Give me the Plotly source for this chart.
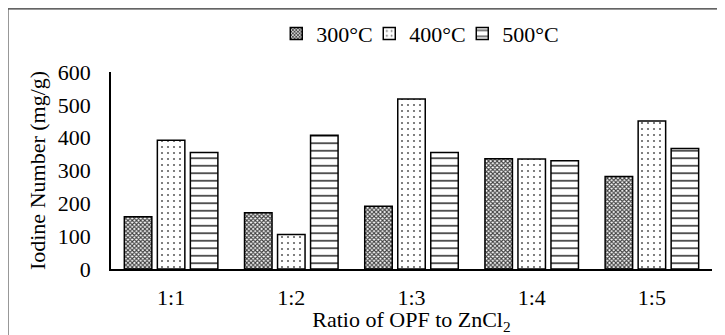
import plotly.graph_objects as go

categories = ["1:1", "1:2", "1:3", "1:4", "1:5"]
series_names = ["300°C", "400°C", "500°C"]
values_300 = [159, 171, 191, 336, 282]
values_400 = [392, 105, 518, 335, 451]
values_500 = [355, 407, 355, 330, 367]
y_ticks = [0, 100, 200, 300, 400, 500, 600]

FONT = "Liberation Serif, Times New Roman, serif"
FS = 22

patterns = [
    dict(shape="x", size=3, solidity=0.6, fgcolor="#404040", bgcolor="white", fillmode="replace"),
    dict(shape=".", size=6, solidity=0.1, fgcolor="#606060", bgcolor="white", fillmode="replace"),
    dict(shape="-", size=7.5, solidity=0.25, fgcolor="#505050", bgcolor="white", fillmode="replace"),
]

fig = go.Figure()
for name, vals, pat in zip(series_names, [values_300, values_400, values_500], patterns):
    fig.add_trace(go.Bar(
        x=categories, y=vals, name=name,
        marker=dict(color="white", pattern=pat, line=dict(color="black", width=1.5)),
    ))
# invisible spacer legend entry so the last legend label is not clipped
fig.add_trace(go.Scatter(x=[None], y=[None], mode="markers", name=" ",
                         marker=dict(color="rgba(0,0,0,0)", size=1,
                                     line=dict(width=0, color="rgba(0,0,0,0)")),
                         hoverinfo="skip"))

fig.update_layout(
    width=717, height=327,
    margin=dict(l=103, r=13, t=64, b=66, autoexpand=False),
    paper_bgcolor="white", plot_bgcolor="white",
    barmode="group", bargap=0.176, bargroupgap=0.167,
    font=dict(family=FONT, size=FS, color="black"),
    showlegend=True,
    legend=dict(orientation="h", x=0.275, xanchor="left", y=1.195, yanchor="middle",
                font=dict(family=FONT, size=FS), itemwidth=30, entrywidth=48,
                entrywidthmode="pixels", bgcolor="rgba(0,0,0,0)"),
    xaxis=dict(
        showline=True, linecolor="black", linewidth=2, ticks="",
        showgrid=False, ticklabelstandoff=8, automargin=False,
        title=dict(text="Ratio of OPF to ZnCl<sub>2</sub>", font=dict(family=FONT, size=FS), standoff=10),
    ),
    yaxis=dict(
        range=[0, 600], tickvals=y_ticks, showline=True, linecolor="black", linewidth=1.5,
        ticks="", showgrid=False, ticklabelstandoff=14, zeroline=False, automargin=False,
        title=dict(text="Iodine Number (mg/g)", font=dict(family=FONT, size=FS), standoff=6),
    ),
    shapes=[
        dict(type="line", xref="paper", yref="paper", x0=-0.1714, x1=1.05, y0=1.32, y1=1.32,
             line=dict(color="#303030", width=1.2)),
        dict(type="line", xref="paper", yref="paper", x0=-0.1714, x1=-0.1714, y0=1.32, y1=-0.4,
             line=dict(color="#505050", width=1.2)),
    ],
)

fig.write_html("out.html")
